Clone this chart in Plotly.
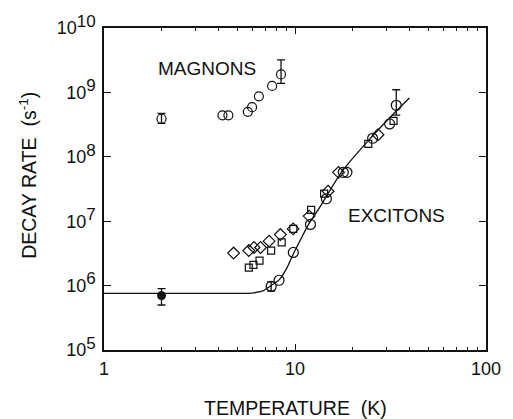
import plotly.graph_objects as go

# ---------------- data ----------------
magnon_T = [2.0, 4.17, 4.48, 5.66, 5.96, 6.47, 7.59, 8.45]
magnon_rate = [3.9e8, 4.4e8, 4.4e8, 5.0e8, 5.9e8, 8.7e8, 1.26e9, 1.9e9]
magnon_err_idx = [0, 7]
magnon_err_plus = [0.8e8, 1.3e9]
magnon_err_minus = [0.6e8, 0.52e9]

exc_circle_T = [7.5, 8.25, 9.8, 12.05, 14.6, 17.9, 18.7, 25.5, 31.3, 33.9]
exc_circle_rate = [9.7e5, 1.21e6, 3.27e6, 8.9e6, 2.23e7, 5.74e7, 5.74e7, 1.94e8, 3.24e8, 6.3e8]
exc_circle_err_idx = [0, 9]
exc_circle_err_plus = [1.7e5, 4.7e8]
exc_circle_err_minus = [1.5e5, 1.85e8]

exc_filled_T = [2.0]
exc_filled_rate = [7.0e5]
exc_filled_err = [2.0e5]

exc_diamond_T = [4.77, 5.73, 6.1, 6.6, 7.32, 8.38, 9.78, 11.86, 14.9, 16.9, 27.2]
exc_diamond_rate = [3.2e6, 3.5e6, 3.9e6, 3.9e6, 4.9e6, 6.2e6, 7.6e6, 1.2e7, 2.92e7, 5.74e7, 2.2e8]

exc_square_T = [5.73, 6.06, 6.52, 7.5, 8.52, 9.8, 12.15, 14.2, 24.2, 32.8]
exc_square_rate = [1.9e6, 2.1e6, 2.45e6, 3.5e6, 4.7e6, 7.6e6, 1.5e7, 2.68e7, 1.59e8, 3.6e8]

fit_T = [1.0, 3.0, 5.7, 6.2, 6.8, 7.5, 8.3, 9.0, 9.8, 10.7, 11.8, 13.6, 17.6, 25.1, 33.2, 39.7]
fit_rate = [7.6e5, 7.6e5, 7.6e5, 7.8e5, 8.3e5, 1.0e6, 1.25e6, 1.8e6, 3.1e6, 5.2e6, 9.0e6,
            1.72e7, 5.9e7, 2.01e8, 4.83e8, 8.2e8]

x_tickvals = [1, 10, 100]
x_ticktext = ["1", "10", "100"]
y_exponents = [5, 6, 7, 8, 9, 10]

# ---------------- figure ----------------
INK = "#111111"
FONT = "Liberation Sans, Arial, Helvetica, sans-serif"

fig = go.Figure()

# fit curve
fig.add_trace(go.Scatter(x=fit_T, y=fit_rate, mode="lines",
                         line=dict(color=INK, width=1.3, shape="spline", smoothing=0.8),
                         hoverinfo="skip"))

# magnons
fig.add_trace(go.Scatter(x=magnon_T, y=magnon_rate, mode="markers",
                         marker=dict(symbol="circle-open", size=9, color=INK, line=dict(width=1.2))))
fig.add_trace(go.Scatter(x=[magnon_T[i] for i in magnon_err_idx],
                         y=[magnon_rate[i] for i in magnon_err_idx],
                         mode="markers", marker=dict(size=1, opacity=0),
                         error_y=dict(type="data", symmetric=False, array=magnon_err_plus,
                                      arrayminus=magnon_err_minus, color=INK, thickness=1.3, width=4)))

# excitons
fig.add_trace(go.Scatter(x=exc_diamond_T, y=exc_diamond_rate, mode="markers",
                         marker=dict(symbol="diamond-open", size=9, color=INK, line=dict(width=1.2))))
fig.add_trace(go.Scatter(x=exc_square_T, y=exc_square_rate, mode="markers",
                         marker=dict(symbol="square-open", size=7, color=INK, line=dict(width=1.2))))
fig.add_trace(go.Scatter(x=exc_circle_T, y=exc_circle_rate, mode="markers",
                         marker=dict(symbol="circle-open", size=10, color=INK, line=dict(width=1.2))))
fig.add_trace(go.Scatter(x=[exc_circle_T[i] for i in exc_circle_err_idx],
                         y=[exc_circle_rate[i] for i in exc_circle_err_idx],
                         mode="markers", marker=dict(size=1, opacity=0),
                         error_y=dict(type="data", symmetric=False, array=exc_circle_err_plus,
                                      arrayminus=exc_circle_err_minus, color=INK, thickness=1.3, width=4)))
fig.add_trace(go.Scatter(x=exc_filled_T, y=exc_filled_rate, mode="markers",
                         marker=dict(symbol="circle", size=9, color=INK),
                         error_y=dict(type="data", array=exc_filled_err, color=INK, thickness=1.3, width=4)))

axis_common = dict(type="log", showgrid=False, zeroline=False, showline=True, linecolor=INK,
                   linewidth=1.5, mirror="ticks", ticks="inside", tickcolor=INK, tickwidth=1.2,
                   tickfont=dict(family=FONT, size=18, color=INK))

fig.update_xaxes(range=[0, 2], tickvals=x_tickvals, ticktext=x_ticktext, ticklen=6,
                 ticklabelstandoff=2,
                 minor=dict(ticks="inside", ticklen=3.5, tickcolor=INK, tickwidth=1, dtick="D1"),
                 **axis_common)
fig.update_yaxes(range=[5, 10], tickvals=[10 ** e for e in y_exponents],
                 ticktext=["10<sup><span style='font-size:17px'>%d</span></sup>" % e
                           for e in y_exponents],
                 ticklen=7, ticklabelstandoff=3, **axis_common)

fig.add_annotation(text="MAGNONS", xref="paper", yref="paper", x=0.269, y=0.875,
                   xanchor="center", yanchor="middle",
                   showarrow=False, font=dict(family=FONT, size=19, color=INK))
fig.add_annotation(text="EXCITONS", xref="paper", yref="paper", x=0.767, y=0.418,
                   xanchor="center", yanchor="middle",
                   showarrow=False, font=dict(family=FONT, size=19, color=INK))
fig.add_annotation(text="TEMPERATURE  (K)", xref="paper", yref="paper", x=0.5, y=0,
                   xanchor="center", yanchor="middle",
                   yshift=-58, showarrow=False, font=dict(family=FONT, size=19.5, color=INK))
fig.add_annotation(text="DECAY RATE  (s<sup>-1</sup>)", xref="paper", yref="paper", x=0,
                   y=0.541, xanchor="center", yanchor="middle", xshift=-76, textangle=-90,
                   showarrow=False, font=dict(family=FONT, size=19.5, color=INK))

fig.update_layout(width=513, height=419, showlegend=False,
                  margin=dict(l=104, r=22, t=22, b=69),
                  paper_bgcolor="white", plot_bgcolor="white")

fig.write_html("out.html", config={"displayModeBar": False},
               post_script="document.body.style.margin='0';")
